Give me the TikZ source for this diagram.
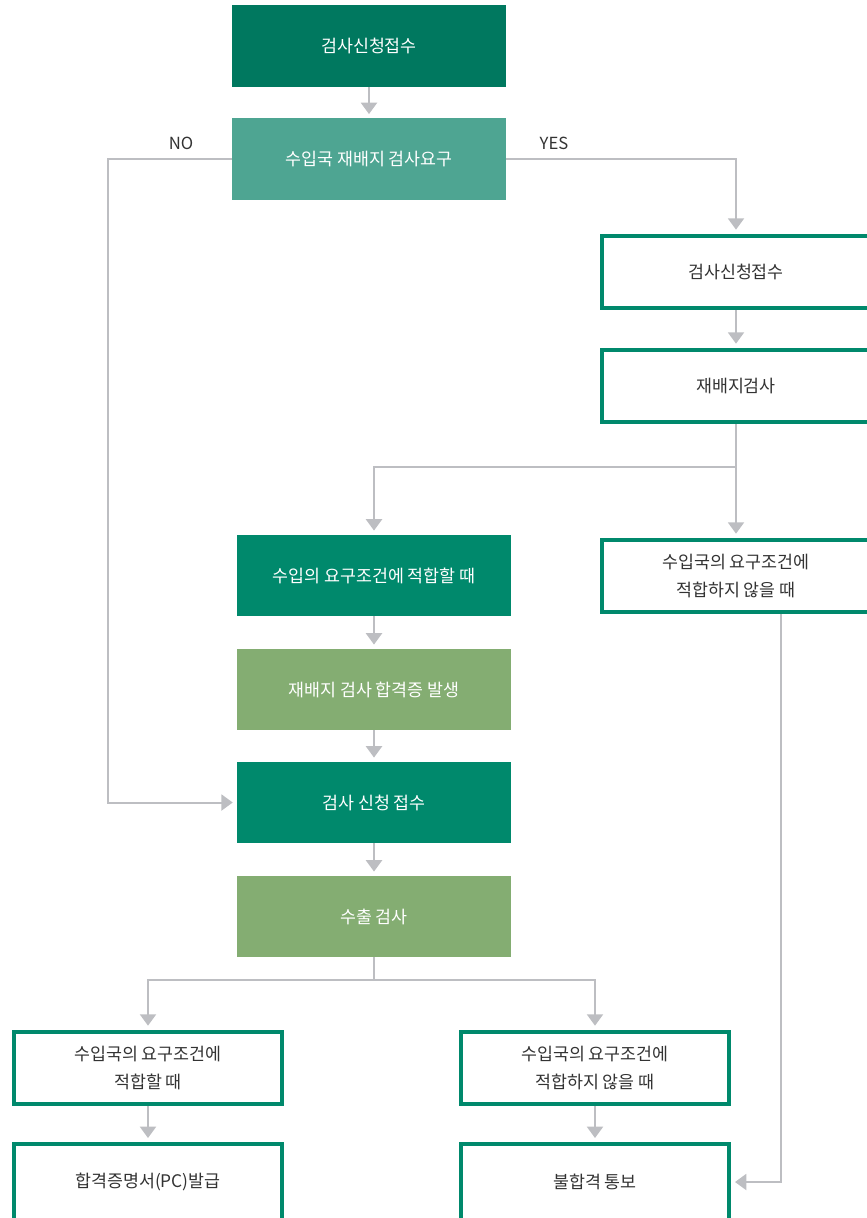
\documentclass[tikz,border=0pt]{standalone}
\usepackage{fontspec}
\setmainfont{Noto Sans CJK KR}
\usetikzlibrary{arrows.meta, calc}
\definecolor{gdeep}{HTML}{00785F}
\definecolor{gmint}{HTML}{4EA592}
\definecolor{gmain}{HTML}{00896C}
\definecolor{gleaf}{HTML}{84AD72}
\definecolor{glink}{HTML}{BDBEC2}
\definecolor{gtext}{HTML}{333333}
\tikzset{
  x=0.75pt, y=-0.75pt,
  font=\fontsize{13}{21}\selectfont,
  solid/.style={
    fill=#1, draw=none, text=white, align=center,
    minimum width=205.5pt, minimum height=61pt, inner sep=0pt
  },
  solid/.default=gmain,
  frame/.style={
    draw=gmain, fill=white, line width=3pt, text=gtext, align=center,
    minimum width=201pt, minimum height=54.5pt, inner sep=0pt
  },
  arr/.style={-{Triangle[width=12pt,length=8.5pt]}, line width=1.5pt, draw=glink,
    shorten >=3pt},
  tag/.style={text=gtext, font=\fontsize{12.5}{14}\selectfont}
}
\begin{document}
\begin{tikzpicture}
  \useasboundingbox (0,0) rectangle (867,1218);
  \clip (0,0) rectangle (867,1218);
  % main column
  \node[solid=gdeep] (recv) at (369,46) {검사신청접수};
  \node[solid=gmint] (req) at (369,159) {수입국 재배지 검사요구};
  \node[tag] at (181,143) {NO};
  \node[tag] at (554,143) {YES};
  % replanting inspection branch
  \node[frame] (recv2) at (736,272) {검사신청접수};
  \node[frame] (insp) at (736,386) {재배지검사};
  \node[solid] (pass1) at (374,575.5) {수입의 요구조건에 적합할 때};
  \node[frame] (fail1) at (736,576) {수입국의 요구조건에\\적합하지 않을 때};
  \node[solid=gleaf] (cert) at (374,689.5) {재배지 검사 합격증 발생};
  \node[solid] (recv3) at (374,802.5) {검사 신청 접수};
  \node[solid=gleaf] (exp) at (374,916.5) {수출 검사};
  % results
  \node[frame] (ok1) at (148,1068) {수입국의 요구조건에\\적합할 때};
  \node[frame] (ng1) at (595,1068) {수입국의 요구조건에\\적합하지 않을 때};
  \node[frame, minimum height=57pt] (pc) at (148,1182) {합격증명서(PC)발급};
  \node[frame, minimum height=57pt] (ng2) at (595,1182) {불합격 통보};
  % connectors
  \draw[arr] (recv) -- (req);
  \draw[arr] (req.west) -- ++(-124,0) |- (recv3.west);
  \draw[arr] (req.east) -| (recv2.north);
  \draw[arr] (recv2) -- (insp);
  \draw[arr] (insp.south) -- ++(0,43) coordinate (split) -| (pass1.north);
  \draw[arr] (split) -- (fail1.north);
  \draw[arr] ($(fail1.south)+(45,0)$) |- (ng2.east);
  \draw[arr] (pass1) -- (cert);
  \draw[arr] (cert) -- (recv3);
  \draw[arr] (recv3) -- (exp);
  \draw[arr] (exp.south) -- ++(0,23) coordinate (split2) -| (ok1.north);
  \draw[arr] (split2) -| (ng1.north);
  \draw[arr] (ok1) -- (pc);
  \draw[arr] (ng1) -- (ng2);
\end{tikzpicture}
\end{document}
